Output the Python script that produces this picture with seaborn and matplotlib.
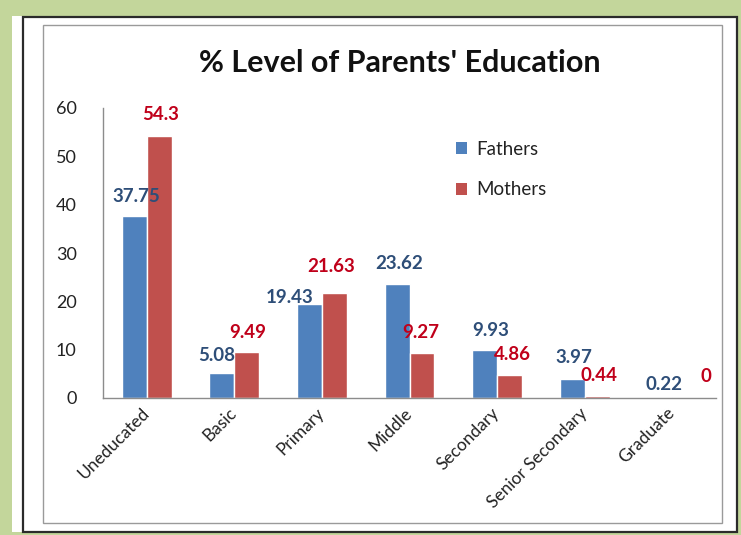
import matplotlib
matplotlib.use("Agg")
import matplotlib.pyplot as plt
import matplotlib.patches as mpatches
import seaborn as sns
import pandas as pd

categories = ["Uneducated", "Basic", "Primary", "Middle", "Secondary",
              "Senior Secondary", "Graduate"]
fathers = [37.75, 5.08, 19.43, 23.62, 9.93, 3.97, 0.22]
mothers = [54.3, 9.49, 21.63, 9.27, 4.86, 0.44, 0]
series = ["Fathers", "Mothers"]
yticks = [0, 10, 20, 30, 40, 50, 60]
title = "% Level of Parents' Education"

# label nudges in pixels (dx, dy) relative to bar top centre
father_nudge = [(2, 19), (-5, 18), (-20, 7), (2, 20), (6, 20), (2, 21), (4, 12)]
mother_nudge = [(1, 21), (1, 20), (-3, 27), (-1, 21), (3, 20), (2, 20), (21, 21)]

bar_colors = {"Fathers": "#4F81BD", "Mothers": "#C0504D"}
label_colors = {"Fathers": "#2E4E78", "Mothers": "#C0001A"}

df = pd.DataFrame({
    "Level": categories * 2,
    "Parent": ["Fathers"] * len(categories) + ["Mothers"] * len(categories),
    "Value": fathers + mothers,
})

sns.set_theme(style="white")
plt.rcParams["font.family"] = ["Lato", "DejaVu Sans"]

W, H = 741, 535
fig = plt.figure(figsize=(W / 100, H / 100), dpi=100)
fig.patch.set_facecolor("#C3D69B")

def px_rect(x0, y0, x1, y1, **kw):
    r = mpatches.Rectangle((x0 / W, 1 - y1 / H), (x1 - x0) / W, (y1 - y0) / H,
                           transform=fig.transFigure, **kw)
    fig.patches.append(r)

px_rect(12, 16, 737, 532, facecolor="white", edgecolor="none", zorder=-3)
px_rect(23, 17, 737, 532, facecolor="white", edgecolor="#2b2b2b", linewidth=1.6, zorder=-2)
px_rect(43, 25, 722, 523, facecolor="none", edgecolor="#9a9a9a", linewidth=1.0, zorder=-1)

ax_l, ax_r, ax_t, ax_b = 103, 716, 108, 398
ax = fig.add_axes([ax_l / W, 1 - ax_b / H, (ax_r - ax_l) / W, (ax_b - ax_t) / H])
ax.set_facecolor("none")

sns.barplot(data=df, x="Level", y="Value", hue="Parent", palette=bar_colors,
            width=0.57, gap=0, ax=ax, legend=False, saturation=1)

ax.set_ylim(0, 60)
ax.set_xlim(-0.5, len(categories) - 0.5)
ax.set_yticks(yticks)
ax.set_yticklabels([str(t) for t in yticks], fontsize=13, color="#222222")
ax.set_xlabel("")
ax.set_ylabel("")
ax.tick_params(axis="y", length=0, pad=19)
ax.tick_params(axis="x", length=0, pad=9)
ax.set_xticks(range(len(categories)))
ax.set_xticklabels(categories, rotation=45, ha="right", rotation_mode="anchor",
                   fontsize=12.5, color="#222222")
for lbl in ax.get_xticklabels():
    lbl.set_va("center")
for s in ["top", "right"]:
    ax.spines[s].set_visible(False)
for s in ["left", "bottom"]:
    ax.spines[s].set_color("#8c8c8c")
    ax.spines[s].set_linewidth(1.0)

for cont, name, nudges in zip(ax.containers, series, [father_nudge, mother_nudge]):
    for bar, (dx, dy) in zip(cont, nudges):
        v = bar.get_height()
        txt = f"{v:g}"
        ax.annotate(txt, (bar.get_x() + bar.get_width() / 2, v),
                    xytext=(dx, dy), textcoords="offset pixels",
                    ha="center", va="center", fontsize=13.5, fontweight="bold",
                    color=label_colors[name], annotation_clip=False)

fig.text(400 / W, 1 - 63 / H, title, ha="center", va="center",
         fontsize=22, fontweight="bold", color="#111111")

handles = [mpatches.Patch(facecolor=bar_colors[s], edgecolor="none", label=s) for s in series]
leg = fig.legend(handles=handles, loc="upper left",
                 bbox_to_anchor=(439 / W, 1 - 124 / H), frameon=False,
                 fontsize=13.5, handlelength=0.6, handleheight=0.6,
                 handletextpad=0.5, labelspacing=1.25)
for t in leg.get_texts():
    t.set_color("#222222")

fig.savefig("out.png", dpi=100)
